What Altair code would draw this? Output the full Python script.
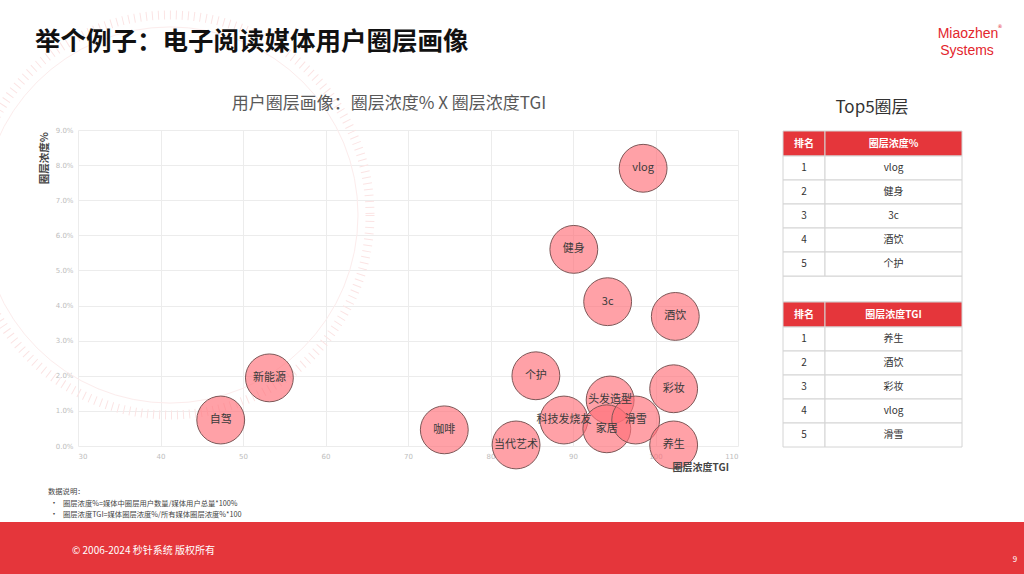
import altair as alt
import pandas as pd

CJK = "Noto Sans CJK SC"
RED = "#E5363B"

# ---- data ----
names = ["vlog", "健身", "3c", "酒饮", "个护", "新能源", "自驾", "咖啡",
         "当代艺术", "科技发烧友", "头发造型", "家居", "滑雪", "彩妆", "养生"]
tgi = [98.5, 90.1, 94.2, 102.4, 85.5, 53.2, 47.3, 74.4,
       83.1, 88.9, 94.5, 94.1, 97.6, 102.2, 102.2]
conc_pct = [7.91, 5.60, 4.11, 3.69, 2.00, 1.94, 0.74, 0.46,
            0.03, 0.74, 1.31, 0.49, 0.74, 1.63, 0.03]
x_ticks = [30, 40, 50, 60, 70, 80, 90, 100, 110]
y_ticks_pct = [0, 1, 2, 3, 4, 5, 6, 7, 8, 9]
top_conc = ["vlog", "健身", "3c", "酒饮", "个护"]
top_tgi = ["养生", "酒饮", "彩妆", "vlog", "滑雪"]

# ---- layout ----
OX, OY = 78, 130
W, H = 660, 316

df = pd.DataFrame({"name": names, "tgi": tgi, "share": [v / 100 for v in conc_pct]})

xs = alt.Scale(domain=[30, 110], nice=False, zero=False)
ys = alt.Scale(domain=[0, 0.09], nice=False, zero=False)
x_axis = alt.Axis(values=x_ticks, title=None, labelFontSize=7, labelColor="#bdbdbd", domain=False,
                  ticks=False, grid=True, gridColor="#ececec", labelPadding=6, labelFont="DejaVu Sans")
y_axis = alt.Axis(values=[v / 100 for v in y_ticks_pct], format=".1%", title=None, labelFontSize=7,
                  labelColor="#bdbdbd", domain=False, ticks=False, grid=True, gridColor="#ececec",
                  labelPadding=5, labelFont="DejaVu Sans")

bubbles = alt.Chart(df).mark_circle(
    size=2290, color="#FF6E78", fillOpacity=0.65, stroke="#7d5757", strokeWidth=1, opacity=1
).encode(
    x=alt.X("tgi:Q", scale=xs, axis=x_axis),
    y=alt.Y("share:Q", scale=ys, axis=y_axis),
)
labels = alt.Chart(df).mark_text(font=CJK, fontSize=11, color="#3a3a3a").encode(
    x=alt.X("tgi:Q", scale=xs, axis=x_axis),
    y=alt.Y("share:Q", scale=ys, axis=y_axis),
    text="name:N",
)
scatter = alt.layer(bubbles, labels)


def T(text, px, py, size=10, color="#333333", align="left", weight="normal", font=CJK, angle=0):
    return alt.Chart(pd.DataFrame({"t": [text]})).mark_text(
        align=align, baseline="middle", fontSize=size, color=color, fontWeight=weight,
        font=font, angle=angle
    ).encode(x=alt.value(px - OX), y=alt.value(py - OY), text="t:N")


def R(x0, y0, x1, y1, fill, stroke=None):
    kw = dict(fill=fill)
    if stroke:
        kw.update(stroke=stroke, strokeWidth=1)
    return alt.Chart(pd.DataFrame({"a": [0]})).mark_rect(**kw).encode(
        x=alt.value(x0 - OX), x2=alt.value(x1 - OX), y=alt.value(y0 - OY), y2=alt.value(y1 - OY))


def ring(cx, cy, r, color, width, dash=None):
    kw = dict(shape="circle", filled=False, stroke=color, strokeWidth=width, size=(2 * r) ** 2, opacity=1)
    if dash:
        kw["strokeDash"] = dash
    return alt.Chart(pd.DataFrame({"a": [0]})).mark_point(**kw).encode(
        x=alt.value(cx - OX), y=alt.value(cy - OY))


# ---- tables ----
TX0, TXM, TX1 = 783, 825, 962


def table_cells(header, items, top):
    rows = [("h", "排名", header, top, top + 25)]
    for i, n in enumerate(items):
        y0 = top + 25 + i * 24
        rows.append(("b", str(i + 1), n, y0, y0 + 24))
    recs = []
    for kind, rk, nm, y0, y1 in rows:
        recs.append(dict(kind=kind, text=rk, x0=TX0 - OX, x1=TXM - OX, y0=y0 - OY, y1=y1 - OY))
        recs.append(dict(kind=kind, text=nm, x0=TXM - OX, x1=TX1 - OX, y0=y0 - OY, y1=y1 - OY))
    return recs


cells = pd.DataFrame(table_cells("圈层浓度%", top_conc, 131) + table_cells("圈层浓度TGI", top_tgi, 302))
cells["xc"] = (cells["x0"] + cells["x1"]) / 2
cells["yc"] = (cells["y0"] + cells["y1"]) / 2

cell_rects = alt.Chart(cells).mark_rect(stroke="#d4d4d4", strokeWidth=1).encode(
    x=alt.X("x0:Q", scale=None, axis=None), x2="x1:Q",
    y=alt.Y("y0:Q", scale=None, axis=None), y2="y1:Q",
    fill=alt.Fill("kind:N", scale=alt.Scale(domain=["h", "b"], range=[RED, "#ffffff"]), legend=None),
)
cell_body = alt.Chart(cells).transform_filter(alt.datum.kind == "b").mark_text(
    font=CJK, fontSize=10, color="#333333").encode(
    x=alt.X("xc:Q", scale=None, axis=None), y=alt.Y("yc:Q", scale=None, axis=None), text="text:N")
cell_head = alt.Chart(cells).transform_filter(alt.datum.kind == "h").mark_text(
    font=CJK, fontSize=10, color="#ffffff", fontWeight="bold").encode(
    x=alt.X("xc:Q", scale=None, axis=None), y=alt.Y("yc:Q", scale=None, axis=None), text="text:N")

LOGO_FONT = "Liberation Sans"

layers = [
    ring(170, 215, 200, "#fbe4e4", 9, [1, 5]),
    ring(170, 215, 188, "#fcecec", 1),
    R(0, 522, 1024, 574, RED),
    scatter,
    T("举个例子：电子阅读媒体用户圈层画像", 35, 42, size=25.5, color="#111111", weight="bold"),
    T("Miaozhen", 968, 34, size=14, color="#E3262D", align="center", font=LOGO_FONT),
    T("®", 1000, 26, size=5, color="#E3262D", align="center", font="DejaVu Sans"),
    T("Systems", 967, 51, size=14, color="#E3262D", align="center", font=LOGO_FONT),
    T("用户圈层画像：圈层浓度% X 圈层浓度TGI", 389, 104, size=17, color="#595959", align="center"),
    T("圈层浓度%", 45, 132, size=10.5, color="#444444", align="right", weight="bold", angle=270),
    T("圈层浓度TGI", 729, 468, size=10, color="#444444", align="right", weight="bold"),
    T("Top5圈层", 872, 108, size=17, color="#333333", align="center"),
    R(TX0, 276, TX1, 302, "#ffffff", "#d4d4d4"),
    cell_rects, cell_body, cell_head,
    T("数据说明：", 48, 492, size=7.3, color="#444444"),
    T("•", 50, 504, size=8, color="#444444"),
    T("圈层浓度%=媒体中圈层用户数量/媒体用户总量*100%", 63, 504, size=7.3, color="#444444"),
    T("•", 50, 515, size=8, color="#444444"),
    T("圈层浓度TGI=媒体圈层浓度%/所有媒体圈层浓度%*100", 63, 515, size=7.3, color="#444444"),
    T("© 2006-2024 秒针系统 版权所有", 72, 551, size=10, color="#ffffff"),
    T("9", 1015, 560, size=8, color="#ffffff", align="center"),
]

chart = alt.layer(*layers).resolve_scale(x="independent", y="independent", fill="independent").properties(
    width=W, height=H,
    padding={"left": OX, "top": OY, "right": 1024 - OX - W, "bottom": 574 - OY - H},
    autosize=alt.AutoSizeParams(type="none"),
    background="white",
).configure_view(stroke=None)

chart.save("out.html", embed_options={"renderer": "svg", "actions": False})
